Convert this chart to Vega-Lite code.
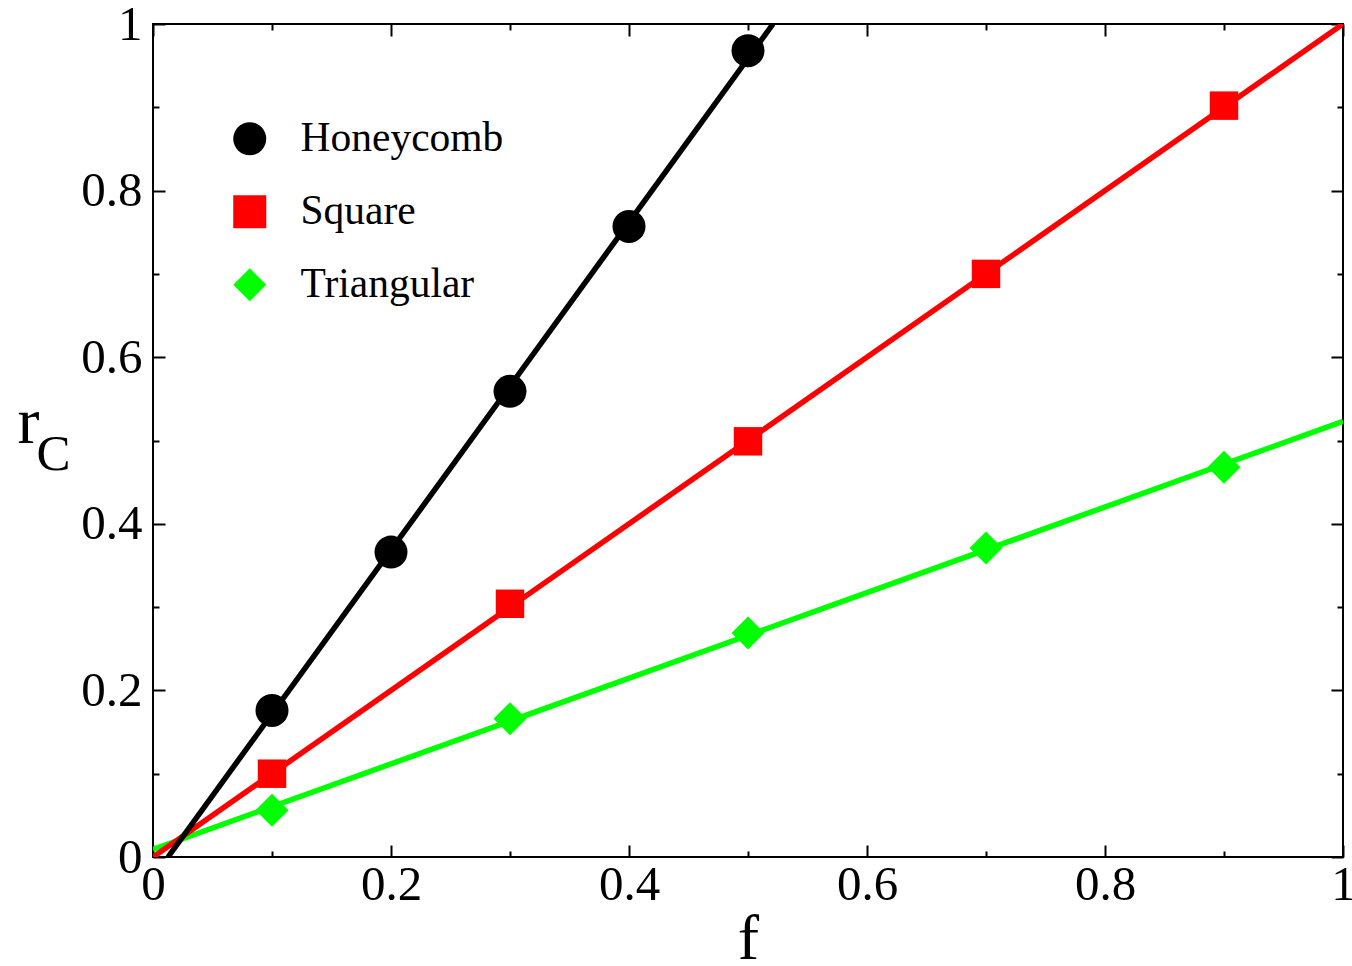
{
  "$schema": "https://vega.github.io/schema/vega-lite/v6.json",
  "width": 1190,
  "height": 833,
  "autosize": {"type": "none"},
  "padding": {"left": 153, "top": 24, "right": 9, "bottom": 109},
  "background": "white",
  "config": {
    "view": {"stroke": "black", "strokeWidth": 2},
    "font": "Liberation Serif",
    "legend": {
      "orient": "none", "legendX": 76, "legendY": 94,
      "labelFont": "Liberation Serif", "labelFontSize": 41.5, "labelColor": "black",
      "labelOffset": 30, "labelLimit": 0, "symbolSize": 1089, "rowPadding": 30, "padding": 0
    }
  },
  "datasets": {
    "fits": [
      {"series": "Honeycomb", "f": 0.0126, "rc": 0},
      {"series": "Honeycomb", "f": 0.521, "rc": 1},
      {"series": "Square", "f": 0, "rc": 0},
      {"series": "Square", "f": 1, "rc": 1},
      {"series": "Triangular", "f": 0, "rc": 0.009},
      {"series": "Triangular", "f": 1, "rc": 0.523}
    ],
    "points": [
      {"series": "Honeycomb", "f": 0.1, "rc": 0.176},
      {"series": "Honeycomb", "f": 0.2, "rc": 0.366},
      {"series": "Honeycomb", "f": 0.3, "rc": 0.559},
      {"series": "Honeycomb", "f": 0.4, "rc": 0.757},
      {"series": "Honeycomb", "f": 0.5, "rc": 0.968},
      {"series": "Square", "f": 0.1, "rc": 0.1},
      {"series": "Square", "f": 0.3, "rc": 0.304},
      {"series": "Square", "f": 0.5, "rc": 0.499},
      {"series": "Square", "f": 0.7, "rc": 0.7},
      {"series": "Square", "f": 0.9, "rc": 0.902},
      {"series": "Triangular", "f": 0.1, "rc": 0.056},
      {"series": "Triangular", "f": 0.3, "rc": 0.166},
      {"series": "Triangular", "f": 0.5, "rc": 0.269},
      {"series": "Triangular", "f": 0.7, "rc": 0.371},
      {"series": "Triangular", "f": 0.9, "rc": 0.468}
    ],
    "sub": [{"t": "C"}]
  },
  "resolve": {"axis": {"x": "independent", "y": "independent"}},
  "layer": [
    {
      "data": {"name": "fits"},
      "transform": [{"filter": "datum.series === 'Triangular'"}],
      "mark": {"type": "line", "strokeWidth": 5.5, "clip": true, "color": "#00ff00"},
      "encoding": {
        "x": {
          "field": "f", "type": "quantitative",
          "scale": {"domain": [0, 1], "nice": false, "zero": false},
          "axis": {
            "orient": "bottom",
            "values": [0, 0.1, 0.2, 0.3, 0.4, 0.5, 0.6, 0.7, 0.8, 0.9, 1],
            "format": "~g",
            "domain": false, "grid": false,
            "tickColor": "black", "tickWidth": 2,
            "tickSize": {"condition": {"test": "abs(datum.value*5 - round(datum.value*5)) < 0.01", "value": -12}, "value": -6},
            "labelExpr": "abs(datum.value*5 - round(datum.value*5)) < 0.01 ? datum.label : ''",
            "labelFont": "Liberation Serif", "labelFontSize": 49, "labelColor": "black",
            "labelFlush": false, "labelPadding": 15, "labelOverlap": false,
            "title": "f", "titleFont": "Liberation Serif", "titleFontSize": 64, "titleFontWeight": "normal",
            "titleColor": "black", "titleBaseline": "alphabetic", "titleY": 101
          }
        },
        "y": {
          "field": "rc", "type": "quantitative",
          "scale": {"domain": [0, 1], "nice": false, "zero": false},
          "axis": {
            "orient": "left",
            "values": [0, 0.1, 0.2, 0.3, 0.4, 0.5, 0.6, 0.7, 0.8, 0.9, 1],
            "format": "~g",
            "domain": false, "grid": false,
            "tickColor": "black", "tickWidth": 2,
            "tickSize": {"condition": {"test": "abs(datum.value*5 - round(datum.value*5)) < 0.01", "value": -12}, "value": -6},
            "labelExpr": "abs(datum.value*5 - round(datum.value*5)) < 0.01 ? datum.label : ''",
            "labelFont": "Liberation Serif", "labelFontSize": 49, "labelColor": "black",
            "labelFlush": false, "labelPadding": 23, "labelOverlap": false,
            "title": "r", "titleFont": "Liberation Serif", "titleFontSize": 66, "titleFontWeight": "normal",
            "titleColor": "black", "titleAngle": 0, "titleAlign": "center", "titleBaseline": "alphabetic",
            "titleX": -125, "titleY": 418
          }
        }
      }
    },
    {
      "data": {"name": "fits"},
      "transform": [{"filter": "datum.series === 'Square'"}],
      "mark": {"type": "line", "strokeWidth": 5.5, "clip": true, "color": "#ff0000"},
      "encoding": {
        "x": {"field": "f", "type": "quantitative", "axis": null},
        "y": {"field": "rc", "type": "quantitative", "axis": null}
      }
    },
    {
      "data": {"name": "fits"},
      "transform": [{"filter": "datum.series === 'Honeycomb'"}],
      "mark": {"type": "line", "strokeWidth": 5.5, "clip": true, "color": "#000000"},
      "encoding": {
        "x": {"field": "f", "type": "quantitative", "axis": null},
        "y": {"field": "rc", "type": "quantitative", "axis": null}
      }
    },
    {
      "data": {"name": "points"},
      "mark": {"type": "point", "filled": true, "opacity": 1},
      "encoding": {
        "x": {
          "field": "f", "type": "quantitative",
          "axis": {
            "orient": "top",
            "values": [0, 0.1, 0.2, 0.3, 0.4, 0.5, 0.6, 0.7, 0.8, 0.9, 1],
            "domain": false, "grid": false, "labels": false, "title": null,
            "tickColor": "black", "tickWidth": 2,
            "tickSize": {"condition": {"test": "abs(datum.value*5 - round(datum.value*5)) < 0.01", "value": -12}, "value": -6}
          }
        },
        "y": {
          "field": "rc", "type": "quantitative",
          "axis": {
            "orient": "right",
            "values": [0, 0.1, 0.2, 0.3, 0.4, 0.5, 0.6, 0.7, 0.8, 0.9, 1],
            "domain": false, "grid": false, "labels": false, "title": null,
            "tickColor": "black", "tickWidth": 2,
            "tickSize": {"condition": {"test": "abs(datum.value*5 - round(datum.value*5)) < 0.01", "value": -12}, "value": -6}
          }
        },
        "size": {"condition": {"test": "datum.series === 'Square'", "value": 810}, "value": 1089},
        "color": {
          "field": "series", "type": "nominal",
          "scale": {"domain": ["Honeycomb", "Square", "Triangular"], "range": ["#000000", "#ff0000", "#00ff00"]},
          "legend": {"title": null}
        },
        "shape": {
          "field": "series", "type": "nominal",
          "scale": {"domain": ["Honeycomb", "Square", "Triangular"], "range": ["circle", "square", "diamond"]},
          "legend": {"title": null}
        }
      }
    },
    {
      "data": {"name": "sub"},
      "mark": {"type": "text", "font": "Liberation Serif", "fontSize": 51, "color": "black", "align": "center", "baseline": "middle", "clip": false},
      "encoding": {
        "x": {"datum": -0.0836, "type": "quantitative", "axis": null},
        "y": {"datum": 0.483, "type": "quantitative", "axis": null},
        "text": {"field": "t"}
      }
    }
  ]
}
